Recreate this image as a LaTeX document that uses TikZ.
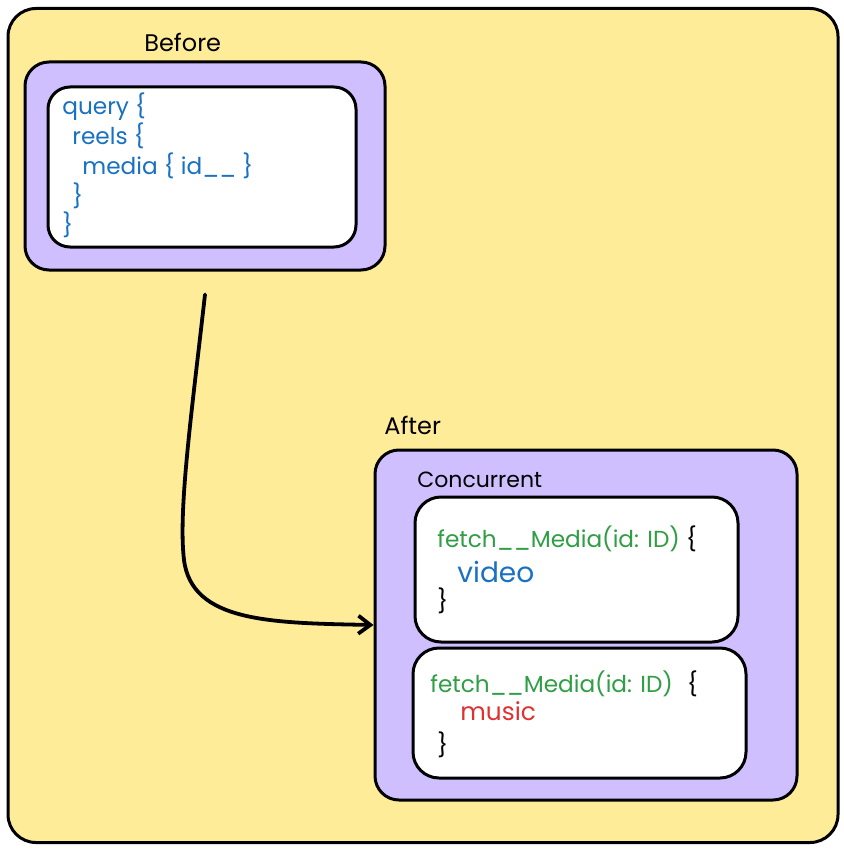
\documentclass[tikz,border=0pt]{standalone}
\usepackage{fontspec}
\setmainfont{Poppins}
\usetikzlibrary{arrows.meta}
\definecolor{paper}{HTML}{FFEC99}
\definecolor{lilac}{HTML}{D0BFFF}
\definecolor{codeblue}{HTML}{1971C2}
\definecolor{codegreen}{HTML}{2F9E44}
\definecolor{codered}{HTML}{E03131}

\begin{document}
\begin{tikzpicture}[x=0.5pt, y=-0.5pt,
	frame/.style={draw, line width=1.5pt, rounded corners=12pt, inner sep=0pt},
	code/.style={anchor=west, inner sep=0pt, font=\fontsize{11.6}{13}\selectfont},
	title/.style={anchor=west, inner sep=0pt, font=\fontsize{12}{14}\selectfont}]
	\useasboundingbox (0, 0) rectangle (844, 850);

	% Background panel
	\node[frame, fill=paper, rounded corners=14pt, minimum width=415pt, minimum height=417pt] (panel) at (423, 425.5) {};

	\begin{scope}
		\node[title] (before) at (144, 42) {Before};

		\node[frame, fill=lilac, minimum width=180pt, minimum height=104pt] (old) at (205, 166) {};
		\node[frame, fill=white, rounded corners=11pt, minimum width=154pt, minimum height=80pt] (oldq) at (202, 167) {};

		\node[code, text=codeblue] (q1) at (62, 107) {query \{};
		\node[code, text=codeblue] (q2) at (72, 136) {reels \{};
		\node[code, text=codeblue] (q3) at (82, 166) {media \{ id\_\_ \}};
		\node[code, text=codeblue] (q4) at (72, 196) {\}};
		\node[code, text=codeblue] (q5) at (62, 225) {\}};
	\end{scope}

	\begin{scope}
		\node[title] (after) at (384, 425) {After};

		\node[frame, fill=lilac, minimum width=211pt, minimum height=175pt] (new) at (586, 625) {};
		\node[title, font=\fontsize{11}{13}\selectfont] (conc) at (417, 480) {Concurrent};

		\node[frame, fill=white, rounded corners=13pt, minimum width=161.5pt, minimum height=72.5pt] (video) at (576.5, 569.5) {};
		\node[frame, fill=white, rounded corners=13pt, minimum width=166.5pt, minimum height=65pt] (music) at (579.5, 713) {};

		\node[code, text=codegreen] (v1) at (437, 539) {fetch\_\_Media(id: ID) \textcolor{black}{\{}};
		\node[code, text=codeblue, font=\fontsize{14}{16}\selectfont] (v2) at (457, 572) {video};
		\node[code] (v3) at (437, 601) {\}};

		\node[code, text=codegreen] (m1) at (430, 684) {fetch\_\_Media(id: ID)~\hspace{4pt}\textcolor{black}{\{}};
		\node[code, text=codered, font=\fontsize{12.4}{14}\selectfont] (m2) at (460, 711) {music};
		\node[code] (m3) at (437, 745) {\}};
	\end{scope}

	% Draw the arrow from before to after
	\draw[line width=1.9pt, line cap=round, -{Straight Barb[length=6pt, width=9pt]}]
		([yshift=-11.5pt]old.south) .. controls (192, 410) and (178, 510) .. (184, 560)
		.. controls (192, 622) and (270, 623) .. (new.west);
\end{tikzpicture}
\end{document}
